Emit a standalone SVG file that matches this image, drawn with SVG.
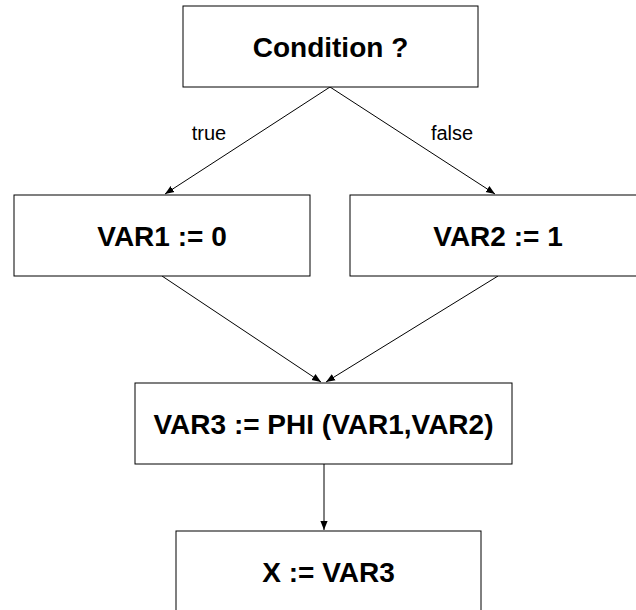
<svg xmlns="http://www.w3.org/2000/svg" width="636" height="610" viewBox="0 0 636 610">
  <style>
    .box { fill: #ffffff; stroke: #000000; stroke-width: 1; }
    .stmt { font-family: "Liberation Sans", Arial, sans-serif; font-size: 28px; font-weight: bold; fill: #000000; text-anchor: middle; }
    .lbl { font-family: "Liberation Sans", Arial, sans-serif; font-size: 20px; fill: #000000; text-anchor: middle; }
    .edge { fill: none; stroke: #000000; stroke-width: 1; marker-end: url(#arrow); }
  </style>
  <defs>
    <marker id="arrow" viewBox="0 0 10 10" refX="10" refY="5" markerWidth="9" markerHeight="9" markerUnits="userSpaceOnUse" orient="auto">
      <path d="M0,1 L10,5 L0,9 Z" fill="#000000"/>
    </marker>
  </defs>
  <rect width="636" height="610" fill="#ffffff"/>

  <g id="connectors">
    <line class="edge" x1="330" y1="87" x2="165" y2="194"/>
    <line class="edge" x1="330" y1="87" x2="495" y2="194"/>
    <line class="edge" x1="162" y1="276" x2="321" y2="382"/>
    <line class="edge" x1="498" y1="276" x2="326" y2="382"/>
    <line class="edge" x1="324" y1="464" x2="324" y2="530"/>
    <text class="lbl" x="209" y="140">true</text>
    <text class="lbl" x="452" y="140">false</text>
  </g>

  <g id="cond">
    <rect class="box" x="183" y="6" width="295" height="81"/>
    <text class="stmt" x="330.5" y="56.5">Condition ?</text>
  </g>
  <g id="var1">
    <rect class="box" x="14" y="195" width="296" height="81"/>
    <text class="stmt" x="162" y="245.5">VAR1 := 0</text>
  </g>
  <g id="var2">
    <rect class="box" x="350" y="195" width="296" height="81"/>
    <text class="stmt" x="498" y="245.5">VAR2 := 1</text>
  </g>
  <g id="phi">
    <rect class="box" x="135" y="383" width="377" height="81"/>
    <text class="stmt" x="323.5" y="433.5">VAR3 := PHI (VAR1,VAR2)</text>
  </g>
  <g id="assign">
    <rect class="box" x="176" y="531" width="305" height="81"/>
    <text class="stmt" x="328.5" y="581.5">X := VAR3</text>
  </g>
</svg>
